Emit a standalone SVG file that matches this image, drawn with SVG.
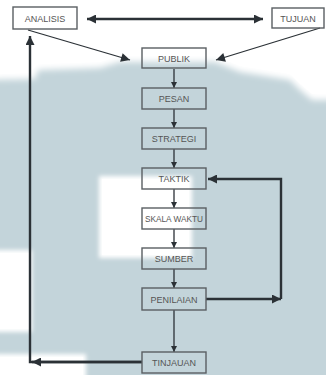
<svg xmlns="http://www.w3.org/2000/svg" width="326" height="375" viewBox="0 0 326 375">
<defs>
<style>
.box{fill:none;stroke:#5a5f63;stroke-width:1.4}
.lbl{font-family:"Liberation Sans",Arial,sans-serif;font-size:9px;fill:#555555;text-anchor:middle}
.thin{fill:none;stroke:#2b3136;stroke-width:1.3}
.thick{fill:none;stroke:#2b3136;stroke-width:2.4}
.wp{fill:#ffffff}
</style>
<filter id="blur" filterUnits="userSpaceOnUse" x="-60" y="-60" width="446" height="495"><feGaussianBlur stdDeviation="3"/></filter>
<filter id="blur2" filterUnits="userSpaceOnUse" x="-60" y="-60" width="446" height="495"><feGaussianBlur stdDeviation="2"/></filter>
<marker id="sm" viewBox="0 0 10 10" refX="10" refY="5" markerUnits="userSpaceOnUse" markerWidth="6" markerHeight="6" orient="auto"><path d="M0,0 L10,5 L0,10 z" fill="#2b3136"/></marker>
<marker id="md" viewBox="0 0 10 10" refX="10" refY="5" markerUnits="userSpaceOnUse" markerWidth="12" markerHeight="9" orient="auto"><path d="M0,0 L10,5 L0,10 z" fill="#2b3136"/></marker>
<marker id="md2" viewBox="0 0 10 10" refX="0" refY="5" markerUnits="userSpaceOnUse" markerWidth="12" markerHeight="9" orient="auto"><path d="M10,0 L0,5 L10,10 z" fill="#2b3136"/></marker>
</defs>
<g id="background">
<rect x="0" y="0" width="326" height="375" fill="#c3d4da"/>
<path class="wp" d="M-20,-20 L346,-20 L346,100 L312,100 L300,90 L290,80 L240,72 L215,62 L120,62 L100,68 L38,70 L35,79 L-20,80 z" filter="url(#blur)"/>
<path class="wp" d="M0,0 L326,0 L326,94 L312,94 L300,84 L290,74 L240,66 L215,56 L120,56 L100,62 L38,64 L30,73 L0,74 z"/>
<rect class="wp" x="99" y="176" width="93" height="82" filter="url(#blur2)"/>
<rect class="wp" x="102" y="179" width="87" height="76"/>
<rect class="wp" x="-10" y="250" width="42" height="82" filter="url(#blur2)"/>
<rect class="wp" x="0" y="253" width="29" height="76"/>
<rect class="wp" x="-10" y="354" width="96" height="40" filter="url(#blur2)"/>
<rect class="wp" x="0" y="357" width="83" height="18"/>
</g>
<g id="connectors">
<line class="thick" x1="87" y1="19" x2="263" y2="19" marker-start="url(#md2)" marker-end="url(#md)"/>
<line class="thin" x1="28" y1="30" x2="130" y2="60" marker-end="url(#md)"/>
<line class="thin" x1="320" y1="28" x2="216" y2="60" marker-end="url(#md)"/>
<line class="thin" x1="174" y1="69" x2="174" y2="88" marker-end="url(#sm)"/>
<line class="thin" x1="174" y1="109" x2="174" y2="128" marker-end="url(#sm)"/>
<line class="thin" x1="174" y1="149" x2="174" y2="168" marker-end="url(#sm)"/>
<line class="thin" x1="174" y1="189" x2="174" y2="208" marker-end="url(#sm)"/>
<line class="thin" x1="174" y1="229" x2="174" y2="248" marker-end="url(#sm)"/>
<line class="thin" x1="174" y1="269" x2="174" y2="288" marker-end="url(#sm)"/>
<line class="thin" x1="174" y1="310" x2="174" y2="352" marker-end="url(#sm)"/>
<line class="thick" x1="206" y1="299" x2="281" y2="299" marker-end="url(#md)"/>
<polyline class="thick" points="281,299 281,179 208,179" marker-end="url(#md)"/>
<polyline class="thick" points="142,362 30,362 30,36" marker-end="url(#md)"/>
<line class="thick" x1="142" y1="362" x2="32" y2="362" marker-end="url(#md)"/>
</g>
<g id="analisis"><rect class="box" x="13" y="7" width="64" height="22"/><text class="lbl" x="45" y="21.5">ANALISIS</text></g>
<g id="tujuan"><rect class="box" x="272" y="8" width="52" height="20"/><text class="lbl" x="298" y="21.5">TUJUAN</text></g>
<g id="publik"><rect class="box" x="142" y="48" width="64" height="20"/><text class="lbl" x="174" y="61.5">PUBLIK</text></g>
<g id="pesan"><rect class="box" x="142" y="88" width="64" height="21"/><text class="lbl" x="174" y="102">PESAN</text></g>
<g id="strategi"><rect class="box" x="142" y="128" width="64" height="21"/><text class="lbl" x="174" y="142">STRATEGI</text></g>
<g id="taktik"><rect class="box" x="142" y="168" width="64" height="21"/><text class="lbl" x="174" y="182">TAKTIK</text></g>
<g id="skala-waktu"><rect class="box" x="142" y="208" width="64" height="21"/><text class="lbl" x="174" y="222" textLength="58" lengthAdjust="spacingAndGlyphs">SKALA WAKTU</text></g>
<g id="sumber"><rect class="box" x="142" y="248" width="64" height="21"/><text class="lbl" x="174" y="262">SUMBER</text></g>
<g id="penilaian"><rect class="box" x="142" y="288" width="64" height="22"/><text class="lbl" x="174" y="302.5">PENILAIAN</text></g>
<g id="tinjauan"><rect class="box" x="142" y="352" width="64" height="21"/><text class="lbl" x="174" y="366">TINJAUAN</text></g>
</svg>
